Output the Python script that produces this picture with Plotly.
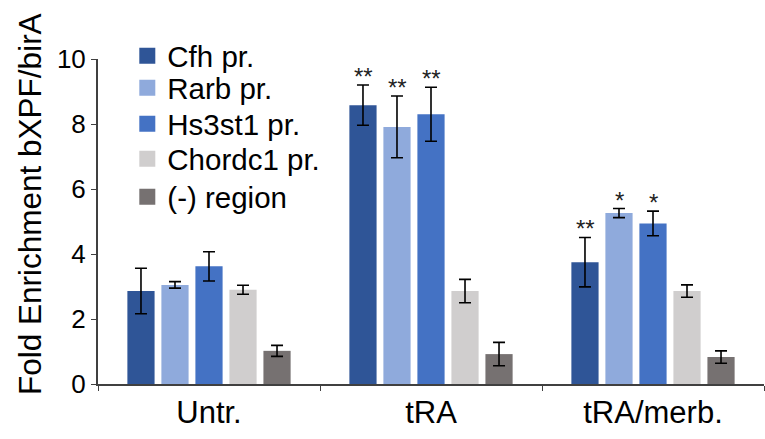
import plotly.graph_objects as go

categories = ["Untr.", "tRA", "tRA/merb."]
series_names = ["Cfh pr.", "Rarb pr.", "Hs3st1 pr.", "Chordc1 pr.", "(-) region"]
colors = ["#2F5597", "#8FAADC", "#4472C4", "#D0CECE", "#767171"]

cfh = [2.86, 8.58, 3.75]
rarb = [3.05, 7.91, 5.26]
hs3st1 = [3.62, 8.30, 4.94]
chordc1 = [2.90, 2.86, 2.86]
neg_region = [1.02, 0.92, 0.83]

cfh_err = [0.70, 0.62, 0.76]
rarb_err = [0.10, 0.95, 0.14]
hs3st1_err = [0.45, 0.83, 0.38]
chordc1_err = [0.14, 0.36, 0.19]
neg_region_err = [0.17, 0.36, 0.19]

cfh_sig = ["", "**", "**"]
rarb_sig = ["", "**", "*"]
hs3st1_sig = ["", "**", "*"]
chordc1_sig = ["", "", ""]
neg_region_sig = ["", "", ""]

y_title = "Fold Enrichment bXPF/birA"

values = [cfh, rarb, hs3st1, chordc1, neg_region]
errors = [cfh_err, rarb_err, hs3st1_err, chordc1_err, neg_region_err]
sigs = [cfh_sig, rarb_sig, hs3st1_sig, chordc1_sig, neg_region_sig]

FONT = "Arial, Liberation Sans, sans-serif"
legend_ids = ["legend", "legend2", "legend3", "legend4", "legend5"]
legend_y = [1.0092, 0.9108, 0.80, 0.6923, 0.5754]

fig = go.Figure()
for name, col, v, e, s, lid in zip(series_names, colors, values, errors, sigs, legend_ids):
    fig.add_trace(go.Bar(
        x=categories, y=v, name=name, marker_color=col,
        marker_line_width=0,
        error_y=dict(type="data", array=e, color="black", thickness=1.6, width=6),
        showlegend=False, offsetgroup=name,
    ))
    # legend proxy
    fig.add_trace(go.Scatter(
        x=[None], y=[None], mode="markers", name=name,
        marker=dict(symbol="square", size=16, color=col),
        showlegend=True, legend=lid,
    ))

n = len(series_names)
for i, (v, e, s) in enumerate(zip(values, errors, sigs)):
    for j, cat in enumerate(categories):
        if s[j]:
            fig.add_annotation(
                x=cat, y=v[j] + e[j], xref="x", yref="y", text=s[j],
                showarrow=False, yanchor="bottom",
                xshift=(i - (n - 1) / 2) * 34, yshift=-7,
                font=dict(family=FONT, size=24, color="#222222"),
            )

fig.add_annotation(
    x=-0.1021, y=0.5538, xref="paper", yref="paper", text=y_title,
    textangle=-90, showarrow=False, xanchor="center", yanchor="middle",
    font=dict(family=FONT, size=31.5, color="black"),
)

legend_common = dict(
    x=0.044, xanchor="left", yanchor="middle",
    font=dict(family=FONT, size=29.5, color="black"),
    bgcolor="rgba(0,0,0,0)",
)

fig.update_layout(
    width=765, height=439,
    margin=dict(l=98, r=1, t=59, b=55),
    paper_bgcolor="white", plot_bgcolor="white",
    barmode="group", bargap=0.234, bargroupgap=0.2,
    font=dict(family=FONT, color="black"),
    xaxis=dict(
        showline=True, linecolor="#404040", linewidth=2,
        ticks="outside", tickson="boundaries", ticklen=5, tickcolor="#404040",
        tickfont=dict(family=FONT, size=31, color="black"),
        showgrid=False,
    ),
    yaxis=dict(
        range=[0, 10], dtick=2, showline=True, linecolor="#404040", linewidth=2,
        ticks="outside", ticklen=5, tickcolor="#404040",
        tickfont=dict(family=FONT, size=26, color="black"),
        showgrid=False, zeroline=False,
    ),
)
for lid, ly in zip(legend_ids, legend_y):
    fig.update_layout({lid: dict(legend_common, y=ly)})

fig.write_html("out.html")
